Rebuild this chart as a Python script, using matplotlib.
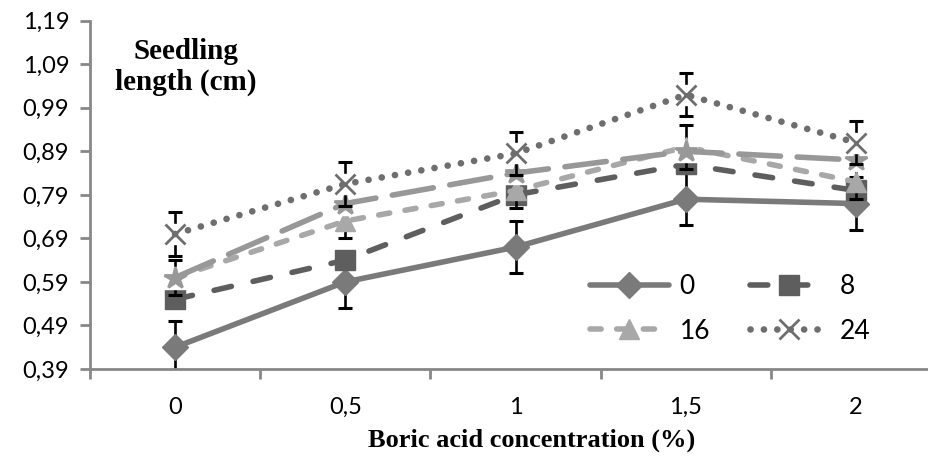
import numpy as np
import matplotlib
matplotlib.use("Agg")
import matplotlib.pyplot as plt
from matplotlib.ticker import FixedLocator

# data
conc_labels = ["0", "0,5", "1", "1,5", "2"]
series_names = ["0", "8", "16", "24"]

len_0 = [0.44, 0.59, 0.67, 0.78, 0.77]
len_8 = [0.55, 0.64, 0.79, 0.86, 0.80]
len_16 = [0.60, 0.73, 0.80, 0.90, 0.82]
len_24 = [0.70, 0.815, 0.885, 1.02, 0.91]
len_extra = [0.60, 0.77, 0.84, 0.89, 0.87]  # fifth series, not in legend

err_0 = [0.06, 0.06, 0.06, 0.06, 0.06]
err_16 = [0.04, 0.04, 0.04, 0.05, 0.04]
err_24 = [0.05, 0.05, 0.05, 0.05, 0.05]

ytick_vals = [0.39, 0.49, 0.59, 0.69, 0.79, 0.89, 0.99, 1.09, 1.19]
ytick_labels = ["0,39", "0,49", "0,59", "0,69", "0,79", "0,89", "0,99", "1,09", "1,19"]

x = np.arange(len(conc_labels))

fig = plt.figure(figsize=(9.29, 4.59), dpi=100)
ax = fig.add_axes([90 / 929, 90 / 459, 851 / 929, 348.3 / 459])

tick_font = "Lato"
label_font = "Liberation Serif"


def draw(vals, color, dashes, marker, ms, label, z, lw=4.0, err=None, white_box=False):
    if err is not None:
        ax.errorbar(x, vals, yerr=err, fmt="none", ecolor="black", elinewidth=1.9,
                    capsize=5, capthick=2.2, zorder=z - 0.5)
    if white_box:
        ax.plot(x, vals, linestyle="none", marker="s", ms=ms, color="white",
                zorder=z + 0.1)
    line, = ax.plot(x, vals, color=color, lw=lw, marker=marker, ms=ms,
                    mec=color, mfc=color, mew=2 if marker in ("x", "*") else 1,
                    label=label, zorder=z + 0.2)
    if dashes:
        line.set_dashes(dashes)
    line.set_dash_capstyle("round")
    line.set_solid_capstyle("round")
    return line


h0 = draw(len_0, "#7a7a7a", None, "D", 13, series_names[0], 2, err=err_0)
h8 = draw(len_8, "#5e5e5e", (3.2, 4.0), "s", 14, series_names[1], 3)
h16 = draw(len_16, "#a8a8a8", (2.0, 2.8), "^", 15, series_names[2], 4, err=err_16)
draw(len_extra, "#989898", (7.5, 3.0), "*", 16, "_nolegend_", 5, white_box=True)
h24 = draw(len_24, "#6e6e6e", (0.01, 2.0), "x", 15, series_names[3], 6, lw=4.8,
           err=err_24, white_box=True)

ax.set_xlim(-0.5, len(conc_labels) - 0.5)
ax.set_ylim(ytick_vals[0], ytick_vals[-1])

ax.yaxis.set_major_locator(FixedLocator(ytick_vals))
ax.set_yticklabels(ytick_labels, fontsize=17, fontfamily=tick_font)
ax.set_xticks(x)
ax.set_xticklabels(conc_labels, fontsize=17, fontfamily=tick_font)
ax.set_xticks(np.arange(len(conc_labels) + 1) - 0.5, minor=True)
ax.tick_params(axis="x", which="major", length=0, pad=20)
ax.tick_params(axis="x", which="minor", length=7, width=2, color="#888888",
               direction="out")
ax.tick_params(axis="y", length=7, width=2, color="#888888", pad=8)

for side in ["top", "right"]:
    ax.spines[side].set_visible(False)
for side in ["left", "bottom"]:
    ax.spines[side].set_color("#888888")
    ax.spines[side].set_linewidth(2)

fig.text(186 / 929, 1 - 67 / 459, "Seedling\nlength (cm)", ha="center", va="center",
         fontsize=21, fontweight="bold", fontfamily=label_font, linespacing=1.2)
fig.text(532 / 929, 1 - 440 / 459, "Boric acid concentration (%)", ha="center",
         va="center", fontsize=19, fontweight="bold", fontfamily=label_font)

# column-filled legend, ordered so rows read 0, 8 / 16, 24
ax.legend([h0, h16, h8, h24], [series_names[0], series_names[2], series_names[1],
                               series_names[3]],
          loc="upper left", bbox_to_anchor=(566 / 929, 1 - 250 / 459),
          bbox_transform=fig.transFigure, ncol=2, frameon=False,
          prop={"family": tick_font, "size": 19}, handlelength=3.0,
          handletextpad=0.4, columnspacing=1.5, labelspacing=0.75, numpoints=1)

fig.savefig("out.png", dpi=100)
